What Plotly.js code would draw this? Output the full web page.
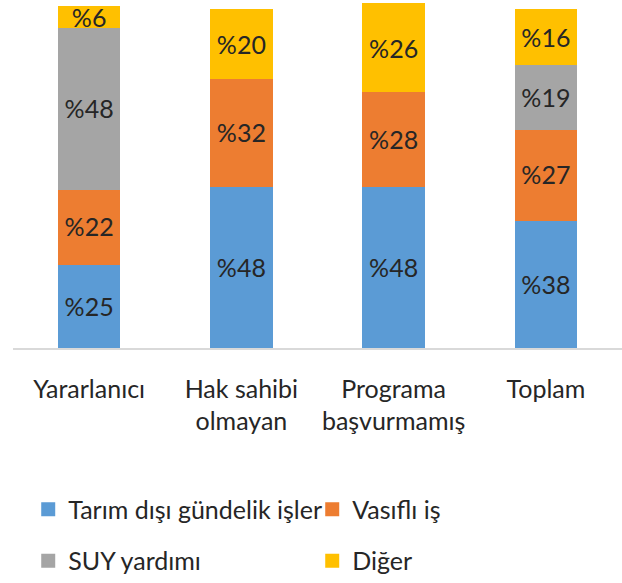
<!DOCTYPE html>
<html><head><meta charset="utf-8">
<script src="https://cdn.plot.ly/plotly-3.0.1.min.js"></script>
<style>html,body{margin:0;padding:0;background:#fff}#chart{width:622px;height:583px}</style>
</head><body><div id="chart"></div>
<script>
const categories = ['Yararlanıcı', 'Hak sahibi<br>olmayan', 'Programa<br>başvurmamış', 'Toplam'];
const seriesNames = ['Tarım dışı gündelik işler', 'Vasıflı iş', 'SUY yardımı', 'Diğer'];
const tarimDisi = [25, 48, 48, 38];
const vasifli = [22, 32, 28, 27];
const suy = [48, 0, 0, 19];
const diger = [6, 20, 26, 16];
const colors = ['#5B9BD5', '#ED7D31', '#A5A5A5', '#FFC000'];

const FONT = 'Lato, "Open Sans", sans-serif';
const TEXT = '#262626';

function mk(name, vals, color, legend) {
  return {
    type: 'bar', name: name, x: categories, y: vals,
    marker: {color: color, line: {color: color, width: 2}},
    text: vals.map(v => v > 0 ? '%' + v : ''),
    textposition: 'inside', insidetextanchor: 'middle', textangle: 0, constraintext: 'none',
    textfont: {family: FONT, size: 25, color: TEXT},
    hoverinfo: 'skip', legend: legend, cliponaxis: false
  };
}

const data = [
  mk(seriesNames[0], tarimDisi, colors[0], 'legend'),
  mk(seriesNames[1], vasifli, colors[1], 'legend'),
  mk(seriesNames[2], suy, colors[2], 'legend2'),
  mk(seriesNames[3], diger, colors[3], 'legend2')
];

const legendBase = {
  orientation: 'h', x: 0.025, xanchor: 'left', yanchor: 'middle',
  entrywidth: 239, entrywidthmode: 'pixels',
  font: {family: FONT, size: 25, color: TEXT},
  bgcolor: 'rgba(0,0,0,0)', traceorder: 'normal'
};

const layout = {
  width: 622, height: 583,
  margin: {l: 13, r: 0, t: 0, b: 235, autoexpand: false},
  barmode: 'stack', bargap: 0.603,
  paper_bgcolor: '#ffffff', plot_bgcolor: '#ffffff',
  showlegend: true,
  xaxis: {
    type: 'category', showline: true, linecolor: '#d9d9d9', linewidth: 1.5,
    ticks: '', tickfont: {family: FONT, size: 25, color: TEXT},
    ticklabelstandoff: 18, showgrid: false, zeroline: false, fixedrange: true
  },
  yaxis: {range: [0, 103.1], visible: false, showgrid: false, zeroline: false, fixedrange: true},
  legend: Object.assign({}, legendBase, {y: -0.464}),
  legend2: Object.assign({}, legendBase, {y: -0.612})
};

Plotly.newPlot('chart', data, layout, {displayModeBar: false, staticPlot: true});
</script>
</body></html>
